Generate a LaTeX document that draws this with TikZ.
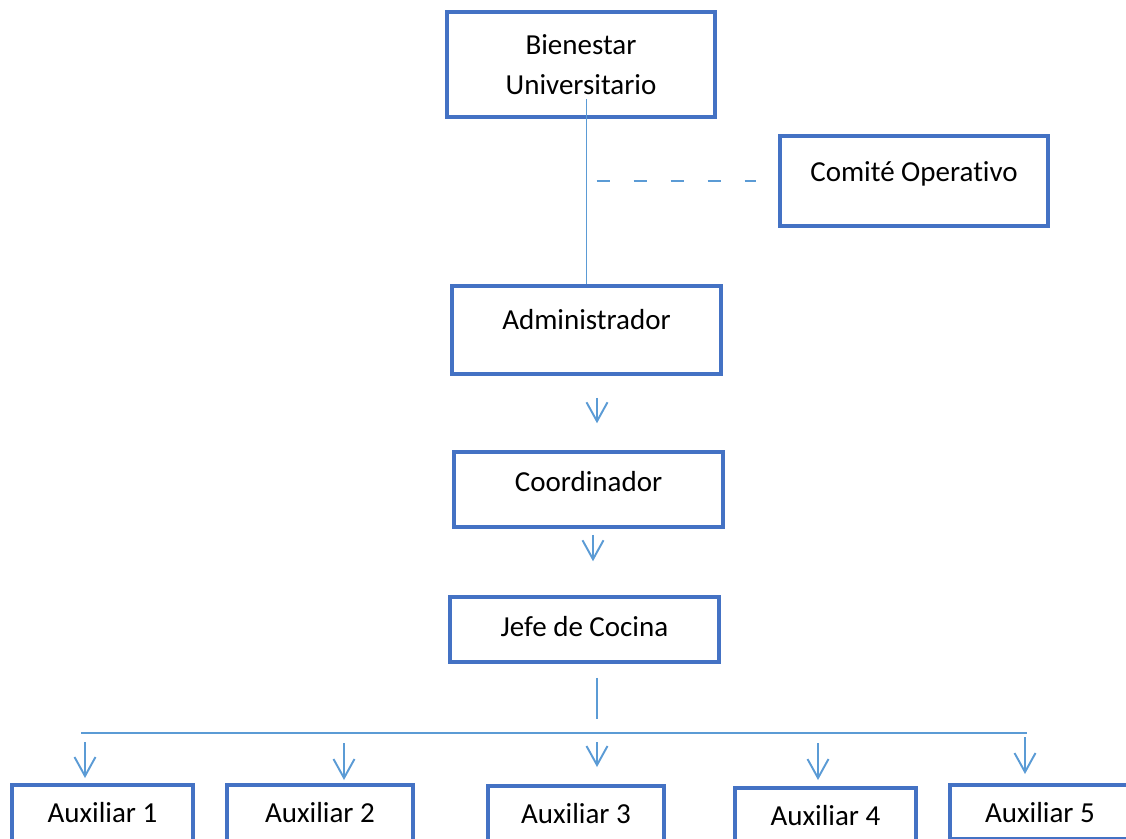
\documentclass[tikz,border=0pt]{standalone}
\usepackage{fontspec}
\setmainfont{Carlito}[Ligatures=NoCommon]
\usetikzlibrary{arrows.meta, calc}
\definecolor{boxblue}{HTML}{4472C4}
\definecolor{linkblue}{HTML}{5B9BD5}

\begin{document}
\begin{tikzpicture}[
    >={Straight Barb[length=0.38cm, width=0.42cm]},
    unit/.style={
        rectangle, draw=boxblue, line width=2pt,
        minimum width=5.38cm, align=center, inner sep=0pt,
        font=\fontsize{16.5}{22.8}\selectfont
    },
    txt/.style={text height=12pt, text depth=#1},
    txt/.default=4pt,
    aux/.style={unit, anchor=north, minimum height=1.24cm},
    link/.style={line width=1.1pt, linkblue},
    dlink/.style={link, dash pattern=on 0.26cm off 0.48cm},
    arr/.style={link, ->},
]
\useasboundingbox (0,0) rectangle (22.52,-16.76);

% Top: direction and committee
\node[unit, minimum width=5.36cm, minimum height=2.1cm] (bienestar) at (11.62,-1.29)
    {Bienestar\\Universitario};
\node[unit, txt=11.6pt, minimum width=5.36cm, minimum height=1.8cm] (comite) at (18.28,-3.62)
    {Comité Operativo};

% Middle chain
\node[unit, txt=12.8pt, minimum height=1.76cm] (admin) at (11.73,-6.60) {Administrador};
\node[unit, txt=10pt, minimum height=1.5cm] (coord) at (11.77,-9.79) {Coordinador};
\node[unit, txt, minimum height=1.3cm] (jefe) at (11.69,-12.59) {Jefe de Cocina};

% Bottom row: auxiliaries
\node[aux, txt, minimum width=3.62cm] (aux1) at (2.05,-15.66) {Auxiliar 1};
\node[aux, txt, minimum width=3.72cm] (aux2) at (6.40,-15.66) {Auxiliar 2};
\node[aux, txt, minimum width=3.52cm] (aux3) at (11.52,-15.68) {Auxiliar 3};
\node[aux, txt, minimum width=3.62cm] (aux4) at (16.51,-15.72) {Auxiliar 4};
\node[aux, txt=0pt, minimum width=3.6cm, minimum height=1.08cm] (aux5) at (20.80,-15.66) {Auxiliar 5};

% Routing points
\coordinate (bu_tail) at ($(admin.north |- bienestar.south)+(0,0.4cm)$);
\coordinate (co_tail) at ($(admin.north |- comite.west)+(0.2cm,0)$);
\coordinate (co_head) at ($(comite.west)+(-0.44cm,0)$);
\coordinate (ac_tail) at ($(admin.south)+(0.21cm,-0.44cm)$);
\coordinate (ac_head) at ($(ac_tail |- coord.north)+(0,0.54cm)$);
\coordinate (cj_tail) at ($(coord.south)+(0.09cm,-0.12cm)$);
\coordinate (cj_head) at ($(cj_tail |- jefe.north)+(0,0.68cm)$);
\coordinate (bus_w) at ($(aux1.north)+(-0.43cm,1.0cm)$);
\coordinate (jb_tail) at ($(jefe.south)+(0.25cm,-0.28cm)$);
\coordinate (jb_head) at ($(jb_tail |- bus_w)+(0,0.28cm)$);

\coordinate (aux1_head) at ($(aux1.north)+(-0.35cm,0.1cm)$);
\coordinate (aux1_tail) at ($(aux1_head |- bus_w)+(0,-0.18cm)$);
\coordinate (aux2_head) at ($(aux2.north)+(0.48cm,0.06cm)$);
\coordinate (aux2_tail) at ($(aux2_head |- bus_w)+(0,-0.2cm)$);
\coordinate (aux3_head) at ($(aux3.north)+(0.42cm,0.34cm)$);
\coordinate (aux3_tail) at ($(aux3_head |- bus_w)+(0,-0.18cm)$);
\coordinate (aux4_head) at ($(aux4.north)+(-0.15cm,0.12cm)$);
\coordinate (aux4_tail) at ($(aux4_head |- bus_w)+(0,-0.2cm)$);
\coordinate (aux5_head) at ($(aux5.north)+(-0.3cm,0.18cm)$);
\coordinate (aux5_tail) at ($(aux5_head |- bus_w)+(0,-0.08cm)$);
\coordinate (bus_e) at ($(aux5_head |- bus_w)+(0.04cm,0)$);

% Links
\draw[link] (bu_tail) -- (admin.north);
\draw[dlink] (co_tail) -- (co_head);
\draw[arr] (ac_tail) -- (ac_head);
\draw[arr] (cj_tail) -- (cj_head);
\draw[link] (jb_tail) -- (jb_head);
\draw[link] (bus_w) -- (bus_e);

% Bus to auxiliaries
\draw[arr] (aux1_tail) -- (aux1_head);
\draw[arr] (aux2_tail) -- (aux2_head);
\draw[arr] (aux3_tail) -- (aux3_head);
\draw[arr] (aux4_tail) -- (aux4_head);
\draw[arr] (aux5_tail) -- (aux5_head);

\end{tikzpicture}
\end{document}
